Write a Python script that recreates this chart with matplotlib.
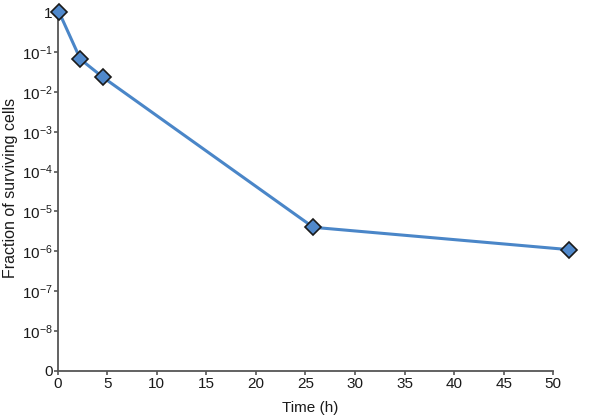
import matplotlib
matplotlib.use("Agg")
import matplotlib.pyplot as plt

# values (the points sit a little off the printed axis)
time_h = [0.15, 2.3, 4.6, 25.8, 51.6]
fraction = [1.0, 0.066, 0.023, 4.0e-6, 1.1e-6]

y_ticks = [1e-9, 1e-8, 1e-7, 1e-6, 1e-5, 1e-4, 1e-3, 1e-2, 1e-1, 1]
y_labels = ["0", "10$^{-8}$", "10$^{-7}$", "10$^{-6}$", "10$^{-5}$",
            "10$^{-4}$", "10$^{-3}$", "10$^{-2}$", "10$^{-1}$", "1"]
x_ticks = list(range(0, 51, 5))

plt.rcParams['font.family'] = ['Liberation Sans', 'DejaVu Sans']
plt.rcParams['mathtext.fontset'] = 'custom'
plt.rcParams['mathtext.rm'] = 'Liberation Sans'
plt.rcParams['mathtext.default'] = 'regular'

fig = plt.figure(figsize=(6, 4.2), dpi=100)
ax = fig.add_axes([0.096, 0.117, 0.826, 0.854])

ax.plot(time_h, fraction, color='#4a86c8', linewidth=2.2,
        marker='D', markersize=8, markerfacecolor='#5089cc',
        markeredgecolor='#1a1a1a', markeredgewidth=1.2, clip_on=False, zorder=3)

ax.set_yscale('log')
ax.set_ylim(1e-9, 1)
ax.set_xlim(0, 50)
ax.set_yticks(y_ticks)
ax.set_yticklabels(y_labels)
ax.minorticks_off()
ax.set_xticks(x_ticks)

for side in ['top', 'right']:
    ax.spines[side].set_visible(False)
for side in ['left', 'bottom']:
    ax.spines[side].set_color('#555555')
    ax.spines[side].set_linewidth(1.3)

ax.tick_params(direction='out', length=3, width=1.2, color='#555555',
               labelsize=11, labelcolor='#1a1a1a')
ax.tick_params(axis='y', pad=0.5)
ax.tick_params(axis='x', pad=1.5)

ax.set_xlabel('Time (h)', fontsize=11, color='#1a1a1a')
ax.set_ylabel('Fraction of surviving cells', fontsize=11.5, color='#1a1a1a')
ax.xaxis.set_label_coords(0.51, -0.085)
ax.yaxis.set_label_coords(-0.08, 0.51)

fig.savefig('out.png', dpi=100)
